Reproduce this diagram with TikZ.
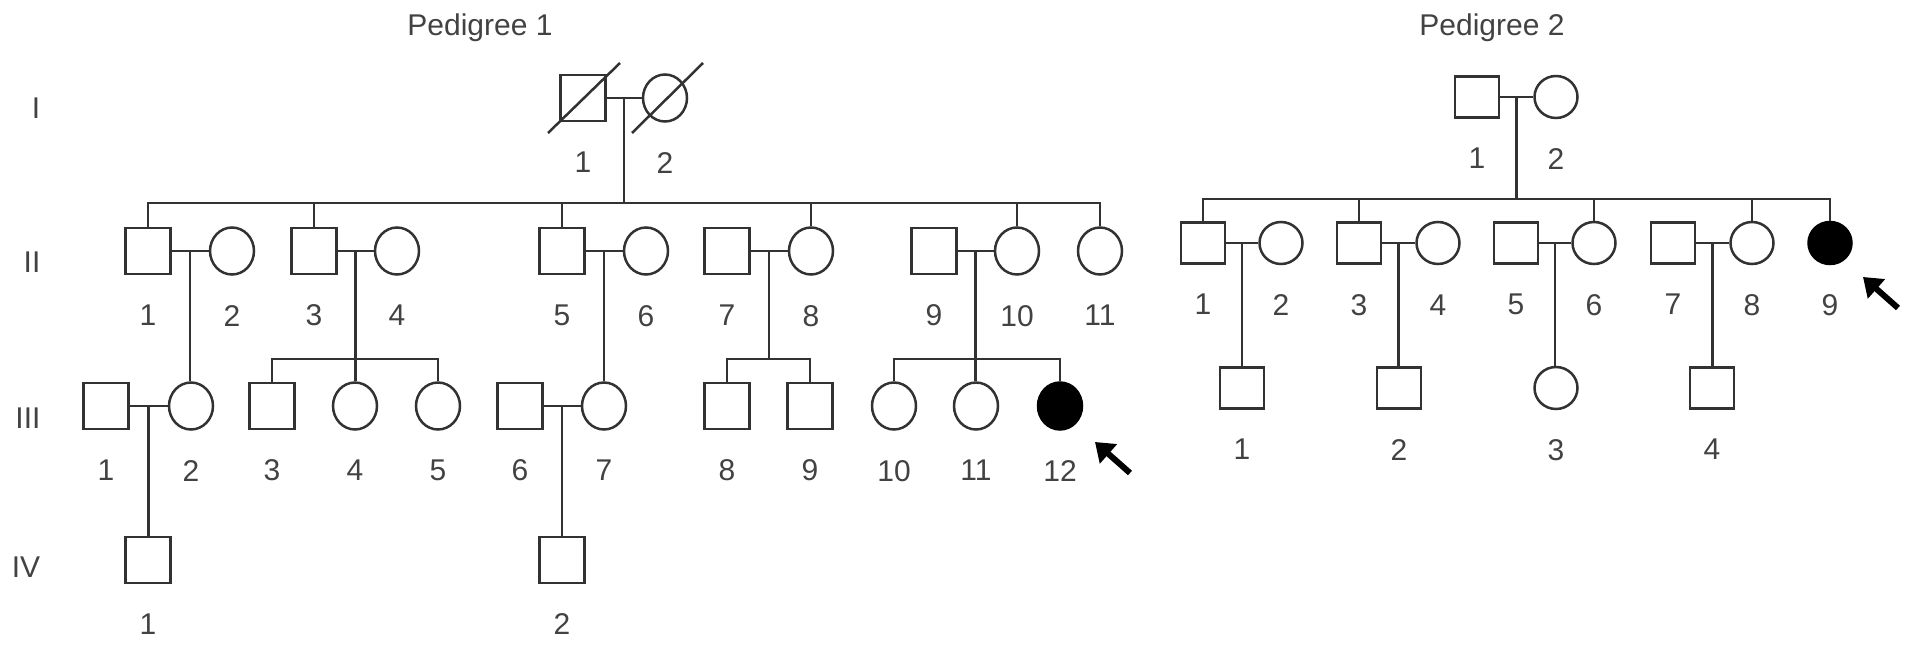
\documentclass[tikz,border=0pt]{standalone}
\usepackage{fontspec}
\setmainfont{Liberation Sans}
\usetikzlibrary{arrows.meta,positioning,calc,shapes.geometric}
\definecolor{pdedge}{RGB}{50,50,50}
\definecolor{pdtext}{RGB}{66,66,66}
\tikzset{
  indiv/.style={draw=pdedge, line width=1.25pt, inner sep=0pt, fill=white},
  male/.style={indiv, rectangle, minimum width=22.5pt, minimum height=23pt},
  female/.style={indiv, ellipse, minimum width=22pt, minimum height=23.5pt},
  maleb/.style={indiv, rectangle, minimum width=22pt, minimum height=20.5pt},
  femaleb/.style={indiv, ellipse, minimum width=21.5pt, minimum height=21pt},
  aff/.style={fill=black, draw=black},
  link/.style={draw=pdedge, line width=1.25pt},
  dead/.style={draw=pdedge, line width=1.25pt},
  proband/.style={-{Triangle[length=9pt,width=12.5pt]}, draw=black, line width=3pt},
  gen/.style={font=\fontsize{15}{18}\selectfont, text=pdtext, inner sep=0pt},
  ttl/.style={font=\fontsize{15}{18}\selectfont, text=pdtext, inner sep=0pt},
  every label/.append style={font=\fontsize{15}{18}\selectfont, text=pdtext, inner sep=0pt}
}
\begin{document}
\begin{tikzpicture}[x=0.5pt, y=-0.5pt, label distance=14.5pt]
  \useasboundingbox (0,0) rectangle (1913,647);
  % titles and generations
  \node[ttl] (t1) at (480,28) {Pedigree 1};
  \node[ttl] (t2) at (1492,28) {Pedigree 2};
  \node[gen] (g1) at (36,108) {I};
  \node[gen] (g2) at (32,262) {II};
  \node[gen] (g3) at (28,418) {III};
  \node[gen] (g4) at (26,567) {IV};
  \coordinate (yII) at (0,203);
  \coordinate (yIII) at (0,359);
  \coordinate (yIIb) at (0,199);

  % pedigree 1
  \node[male, label distance=11.5pt, label=below:1] (a1) at (583,98) {};
  \node[female, label distance=11.5pt, label=below:2] (a2) at (665,98) {};
  \draw[dead] (a1) +(-35,35) -- +(37,-35);
  \draw[dead] (a2) +(-33,35) -- +(38,-35);

  \node[male, label=below:1] (b1) at (148,251) {};
  \node[female, label=below:2] (b2) at (232,251) {};
  \node[male, label=below:3] (b3) at (314,251) {};
  \node[female, label=below:4] (b4) at (397,251) {};
  \node[male, label=below:5] (b5) at (562,251) {};
  \node[female, label=below:6] (b6) at (646,251) {};
  \node[male, label=below:7] (b7) at (727,251) {};
  \node[female, label=below:8] (b8) at (811,251) {};
  \node[male, label=below:9] (b9) at (934,251) {};
  \node[female, label=below:10] (b10) at (1017,251) {};
  \node[female, label=below:11] (b11) at (1100,251) {};

  \node[male, label=below:1] (c1) at (106,406) {};
  \node[female, label=below:2] (c2) at (191,406) {};
  \node[male, label=below:3] (c3) at (272,406) {};
  \node[female, label=below:4] (c4) at (355,406) {};
  \node[female, label=below:5] (c5) at (438,406) {};
  \node[male, label=below:6] (c6) at (520,406) {};
  \node[female, label=below:7] (c7) at (604,406) {};
  \node[male, label=below:8] (c8) at (727,406) {};
  \node[male, label=below:9] (c9) at (810,406) {};
  \node[female, label=below:10] (c10) at (894,406) {};
  \node[female, label=below:11] (c11) at (976,406) {};
  \node[female, aff, label=below:12] (c12) at (1060,406) {};

  \node[male, label=below:1] (d1) at (148,560) {};
  \node[male, label=below:2] (d2) at (562,560) {};

  \foreach \m/\f in {a1/a2,b1/b2,b3/b4,b5/b6,b7/b8,b9/b10,c1/c2,c6/c7} {
    \draw[link] (\m) -- (\f);
    \coordinate (m\m) at ($(\m)!.5!(\f)$);
  }
  \draw[link] (ma1) -- (ma1 |- yII);
  \draw[link] (b1.north) |- (ma1 |- yII) -| (b11.north);
  \foreach \n in {b3,b5,b8,b10}
    \draw[link] (\n.north) -- (\n.north |- yII);

  \draw[link] (mb1) -- (mb1 |- c2.north);
  \draw[link] (mb3) -- (mb3 |- c4.north);
  \draw[link] (c3.north) |- (mb3 |- yIII) -| (c5.north);
  \draw[link] (mb5) -- (mb5 |- c7.north);
  \draw[link] (mb7) -- (mb7 |- yIII);
  \draw[link] (c8.north) |- (mb7 |- yIII) -| (c9.north);
  \draw[link] (mb9) -- (mb9 |- c11.north);
  \draw[link] (c10.north) |- (mb9 |- yIII) -| (c12.north);
  \draw[link] (mc1) -- (mc1 |- d1.north);
  \draw[link] (mc6) -- (mc6 |- d2.north);

  % pedigree 2
  \node[maleb, label distance=13.5pt, label=below:1] (p1) at (1477,97) {};
  \node[femaleb, label distance=13.5pt, label=below:2] (p2) at (1556,97) {};

  \node[maleb, label distance=13.5pt, label=below:1] (q1) at (1203,243) {};
  \node[femaleb, label distance=13.5pt, label=below:2] (q2) at (1281,243) {};
  \node[maleb, label distance=13.5pt, label=below:3] (q3) at (1359,243) {};
  \node[femaleb, label distance=13.5pt, label=below:4] (q4) at (1438,243) {};
  \node[maleb, label distance=13.5pt, label=below:5] (q5) at (1516,243) {};
  \node[femaleb, label distance=13.5pt, label=below:6] (q6) at (1594,243) {};
  \node[maleb, label distance=13.5pt, label=below:7] (q7) at (1673,243) {};
  \node[femaleb, label distance=13.5pt, label=below:8] (q8) at (1752,243) {};
  \node[femaleb, aff, label distance=13.5pt, label=below:9] (q9) at (1830,243) {};

  \node[maleb, label distance=13pt, label=below:1] (r1) at (1242,388) {};
  \node[maleb, label distance=13pt, label=below:2] (r2) at (1399,388) {};
  \node[femaleb, label distance=13pt, label=below:3] (r3) at (1556,388) {};
  \node[maleb, label distance=13pt, label=below:4] (r4) at (1712,388) {};

  \foreach \m/\f in {p1/p2,q1/q2,q3/q4,q5/q6,q7/q8} {
    \draw[link] (\m) -- (\f);
    \coordinate (m\m) at ($(\m)!.5!(\f)$);
  }
  \draw[link] (mp1) -- (mp1 |- yIIb);
  \draw[link] (q1.north) |- (mp1 |- yIIb) -| (q9.north);
  \foreach \n in {q3,q6,q8}
    \draw[link] (\n.north) -- (\n.north |- yIIb);
  \draw[link] (mq1) -- (mq1 |- r1.north);
  \draw[link] (mq3) -- (mq3 |- r2.north);
  \draw[link] (mq5) -- (mq5 |- r3.north);
  \draw[link] (mq7) -- (mq7 |- r4.north);

  % probands
  \coordinate (pa1) at ($(c12)+(70,67)$);
  \coordinate (pt1) at ($(c12)+(35,36)$);
  \draw[proband] (pa1) -- (pt1);
  \coordinate (pa2) at ($(q9)+(68,65)$);
  \coordinate (pt2) at ($(q9)+(33,34)$);
  \draw[proband] (pa2) -- (pt2);
\end{tikzpicture}
\end{document}
